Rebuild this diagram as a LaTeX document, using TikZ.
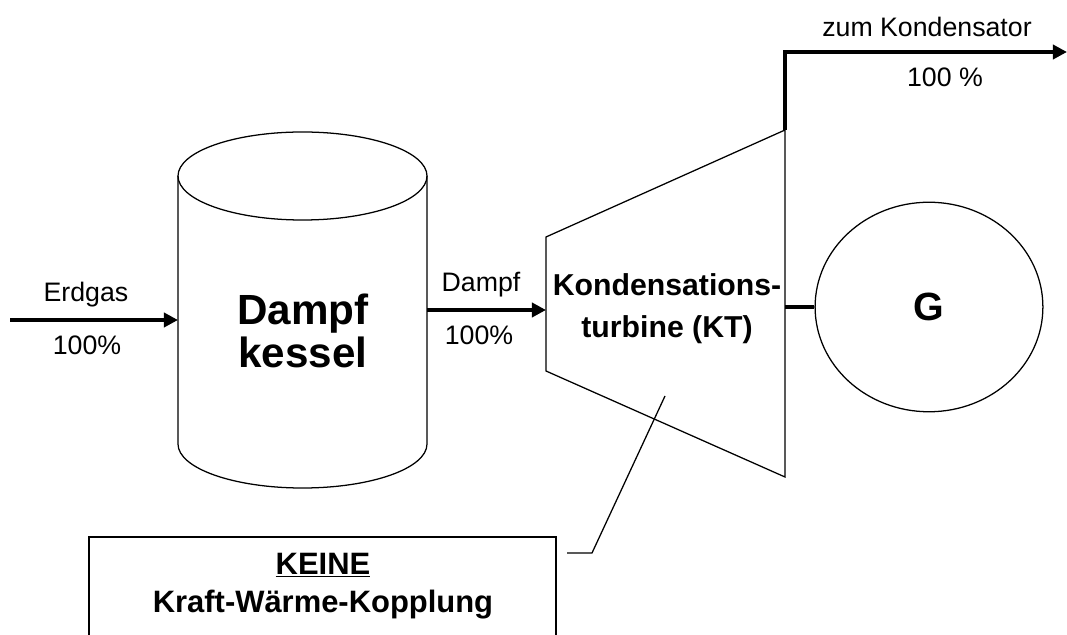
\documentclass[tikz,border=0pt]{standalone}
\usepackage{fontspec}
\setmainfont{Liberation Sans}
\usepackage{tikz}
\usetikzlibrary{calc,arrows.meta,shapes.geometric}

\begin{document}
\begin{tikzpicture}[x=0.025cm,y=-0.025cm,line width=0.9pt,
  flow/.style={line width=2.8pt,-{Triangle[length=10pt,width=10pt]}},
  lbl/.style={font=\fontsize{19}{23}\selectfont},
  big/.style={font=\bfseries\fontsize{30}{30}\selectfont,align=center},
  mid/.style={font=\bfseries\fontsize{21.5}{29.8}\selectfont,align=center}]
\useasboundingbox (0,0) rectangle (1067,635);
\clip (0,0) rectangle (1067,635);
% Dampfkessel
\draw (178,176)--(178,444) arc(180:0:124.5 and 44)--(427,176);
\draw (302.5,176) ellipse (124.5 and 44);
\node[big] (kessel) at (303,331) {Dampf\\kessel};
\coordinate (gasin) at (10,320); \coordinate (kin) at (178,320);
\coordinate (kout) at (427,310);
% Turbine
\coordinate (tlt) at (546,237); \coordinate (tlb) at (546,371);
\coordinate (trt) at (785,130); \coordinate (trb) at (785,477);
\coordinate (tin) at (546,310); \coordinate (tsh) at (785,307);
\draw (tlt)--(trt)--(trb)--(tlb)--cycle;
\node[mid] (kt) at (667,309) {Kondensations-\\turbine (KT)};
% Generator
\node[draw,ellipse,minimum width=162pt,minimum height=149pt,inner sep=0pt,
  font=\bfseries\fontsize{28}{28}\selectfont] (gen) at (929,307) {G};
\draw[line width=2.8pt] (tsh)--(gen.west);
% Stroeme
\draw[flow] (gasin)--(kin);
\node[lbl] (erdgas) at (86,295) {Erdgas};
\node[lbl] (gasp) at (87,345) {100\%};
\draw[flow] (kout)--(tin);
\node[lbl] (dampf) at (481,285) {Dampf};
\node[lbl] (dampfp) at (479,335) {100\%};
\coordinate (cond) at (1067,52);
\draw[flow,line width=2.5pt] (trt) |- (cond);
\node[lbl] (zum) at (927,27) {zum Kondensator};
\node[lbl] (zump) at (945,77) {100 \%};
% Hinweis
\coordinate (cstart) at (665,396); \coordinate (cend) at (567,553);
\draw (cstart)--(592,553)--(cend);
\draw (89,537) rectangle (556,690);
\node[mid,font=\bfseries\fontsize{22}{27}\selectfont] (keine) at (323,586) {\underline{KEINE}\\Kraft-Wärme-Kopplung};
\end{tikzpicture}
\end{document}
